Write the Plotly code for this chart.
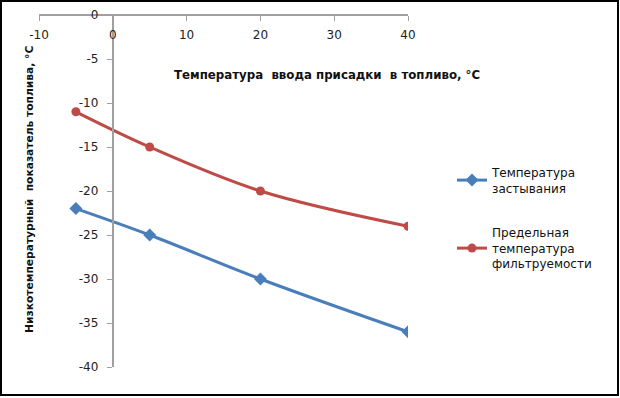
import plotly.graph_objects as go

x_vals = [-5, 5, 20, 40]
pour_point = [-22, -25, -30, -36]
cfpp = [-11, -15, -20, -24]
series_names = ["Температура<br>застывания", "Предельная<br>температура<br>фильтруемости"]
x_ticks = [-10, 0, 10, 20, 30, 40]
x_tick_labels = ["-10", "0", "10", "20", "30", "40"]
y_ticks = [0, -5, -10, -15, -20, -25, -30, -35, -40]
y_tick_labels = ["0", "-5", "-10", "-15", "-20", "-25", "-30", "-35", "-40"]
x_title = "Температура  ввода присадки  в топливо, °С"
y_title = "Низкотемпературный  показатель топлива, °С"

W, H = 620, 398
L, R, T, B = 39, 408, 15, 367
pw, ph = R - L, B - T

def px(xp):
    return (xp - L) / pw

def py(yp):
    return 1 - (yp - T) / ph

font = "DejaVu Sans"
axis_color = "#a0a0a0"

fig = go.Figure()
fig.add_trace(go.Scatter(
    x=x_vals, y=pour_point, name=series_names[0], mode="lines+markers",
    line=dict(color="#4A7EBB", width=3, shape="spline"),
    marker=dict(symbol="diamond", size=10, color="#4A7EBB"),
    legendgroup="a",
))
fig.add_trace(go.Scatter(
    x=x_vals, y=cfpp, name=series_names[1], mode="lines+markers",
    line=dict(color="#BE4B48", width=3, shape="spline"),
    marker=dict(symbol="circle", size=9, color="#BE4B48"),
    legendgroup="b",
))

fig.update_layout(
    width=W, height=H,
    margin=dict(l=L, r=W - R, t=T, b=H - B, pad=0, autoexpand=False),
    paper_bgcolor="white", plot_bgcolor="white",
    font=dict(family=font, size=12, color="#222"),
    showlegend=True,
    legend=dict(xref="container", yref="container",
                x=452 / W, y=1 - 158 / H, xanchor="left", yanchor="top",
                font=dict(family=font, size=12, color="#111"),
                tracegroupgap=26, itemwidth=30, bgcolor="rgba(0,0,0,0)"),
    xaxis=dict(range=[-10, 40], tickvals=x_ticks, ticktext=x_tick_labels,
               anchor="free", position=1, side="bottom",
               showline=True, linecolor=axis_color, linewidth=1.5,
               ticks="outside", ticklen=5, tickcolor=axis_color,
               ticklabelstandoff=4,
               showgrid=False, zeroline=False, automargin=False,
               tickfont=dict(family=font, size=12, color="#222")),
    yaxis=dict(range=[-40, 0], tickvals=y_ticks, ticktext=y_tick_labels,
               anchor="free", position=0.2, side="left",
               showline=True, linecolor=axis_color, linewidth=2,
               ticks="outside", ticklen=5, tickcolor=axis_color,
               ticklabelstandoff=6,
               showgrid=False, zeroline=False, automargin=False,
               tickfont=dict(family=font, size=12, color="#222")),
)

fig.add_annotation(text="<b>" + x_title + "</b>", xref="paper", yref="paper",
                   x=px(327), y=py(75), xanchor="center", yanchor="middle",
                   showarrow=False,
                   font=dict(family=font, size=11.8, color="#111"))
fig.add_annotation(text="<b>" + y_title + "</b>", xref="paper", yref="paper",
                   x=px(30), y=py(190), xanchor="center", yanchor="middle",
                   showarrow=False, textangle=-90,
                   font=dict(family=font, size=10.7, color="#111"))

fig.add_shape(type="rect", xref="paper", yref="paper",
              x0=px(1), x1=px(618), y0=py(395), y1=py(1),
              line=dict(color="black", width=2), fillcolor="rgba(0,0,0,0)")

fig.write_html("out.html", config={"displayModeBar": False},
               post_script="document.body.style.margin='0';document.body.style.overflow='hidden';")
